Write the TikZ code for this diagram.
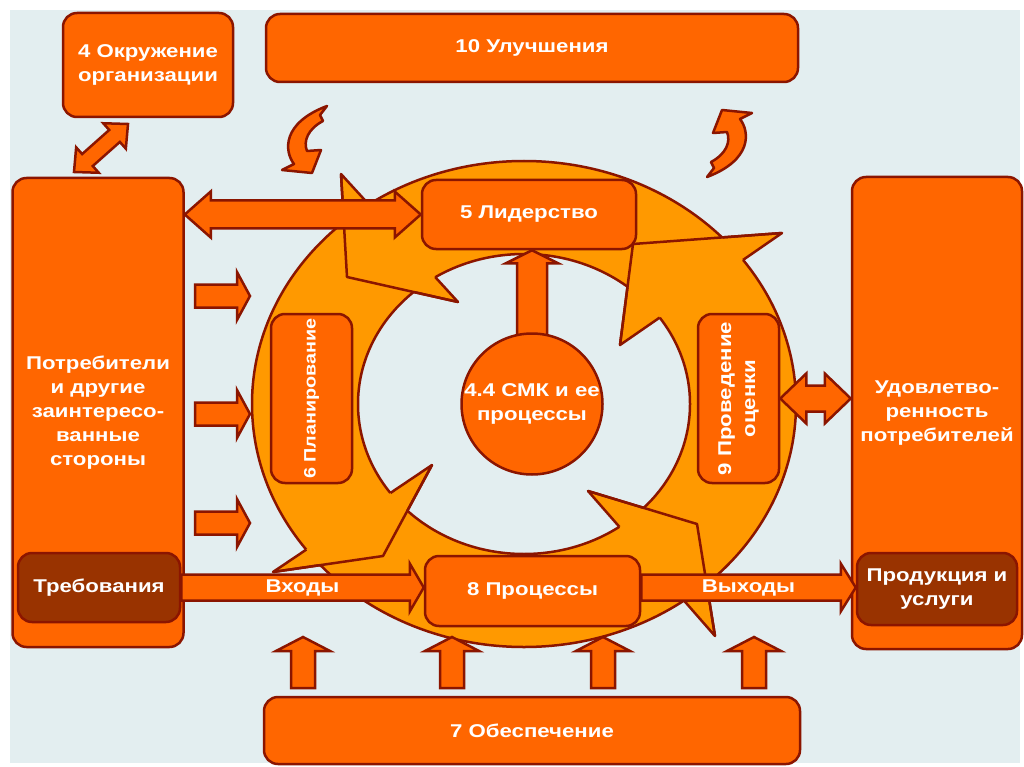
\documentclass[tikz,border=0pt]{standalone}
\usepackage{fontspec}
\newfontfamily\lab{Liberation Sans}[FakeStretch=1.2]
\usetikzlibrary{calc}
\definecolor{bg}{HTML}{E3EEF0}
\definecolor{org}{HTML}{FF6600}
\definecolor{ringc}{HTML}{FF9900}
\definecolor{dk}{HTML}{8B1500}
\definecolor{brn}{HTML}{993300}

\newcommand\blockarr[5]{% from, to, shaft half width, head half width, head length
  \coordinate (ba-h) at ($(#2)!#5!(#1)$);
  \draw[barrow] ($(#1)!#3!90:(#2)$) -- ($(ba-h)!#3!90:(#2)$) -- ($(ba-h)!#4!90:(#2)$) -- (#2)
    -- ($(ba-h)!#4!-90:(#2)$) -- ($(ba-h)!#3!-90:(#2)$) -- ($(#1)!#3!-90:(#2)$) -- cycle;}
\newcommand\dblockarr[5]{%
  \coordinate (ba-g) at ($(#1)!#5!(#2)$);
  \coordinate (ba-h) at ($(#2)!#5!(#1)$);
  \draw[barrow] (#1) -- ($(ba-g)!#4!90:(#2)$) -- ($(ba-g)!#3!90:(#2)$) -- ($(ba-h)!#3!90:(#2)$)
    -- ($(ba-h)!#4!90:(#2)$) -- (#2) -- ($(ba-h)!#4!-90:(#2)$) -- ($(ba-h)!#3!-90:(#2)$)
    -- ($(ba-g)!#3!-90:(#2)$) -- ($(ba-g)!#4!-90:(#2)$) -- cycle;}
\newcommand\ringhead[3]{% outer barb, tip, inner barb
  \fill[ringc] #1 -- #2 -- #3 -- cycle;
  \draw[ringline] #1 -- #2 -- #3;
  \begin{scope}[even odd rule]
    \clip (-10,-10) rectangle (1034,777)
      (524,404) ellipse [x radius=272pt, y radius=243pt]
      (524,404) ellipse [x radius=166pt, y radius=150pt];
    \draw[ringline] #1 -- #2 -- #3 -- cycle;
  \end{scope}}

\begin{document}
\begin{tikzpicture}[x=1pt,y=-1pt,
  lbl/.style={text=white, font=\lab\bfseries\fontsize{18.5}{24}\selectfont, align=center, inner sep=0pt},
  box/.style={lbl, draw=dk, fill=org, line width=2.5pt, rounded corners=14pt, inner sep=2pt},
  dbox/.style={box, fill=brn},
  barrow/.style={draw=dk, fill=org, line width=2.5pt, line join=miter},
  ringline/.style={draw=dk, line width=2.5pt, line join=round},
  curv/.style={draw=dk, fill=org, line width=2.5pt, line join=round}]

\useasboundingbox (0,0) rectangle (1024,767);
\fill[white] (0,0) rectangle (1024,767);
\fill[bg] (10,10) rectangle (1020,763);

% ring
\path[draw=dk, fill=ringc, line width=2.5pt, even odd rule]
  (524,404) ellipse [x radius=272pt, y radius=243pt]
  (524,404) ellipse [x radius=166pt, y radius=150pt];
\ringhead{(341,174)}{(347,277)}{(458,302)}
\ringhead{(782,233)}{(633,244)}{(620,345)}
\ringhead{(273,572)}{(383,556)}{(432,465)}
\ringhead{(715,636)}{(697,524)}{(588,491)}

% boxes
\node[box, minimum width=214pt, minimum height=69pt] (lead) at (529,214.5) {5 Лидерство};
\node[box, rotate=90, minimum width=169pt, minimum height=81pt, inner sep=0pt,
  font=\lab\bfseries\fontsize{16.5}{22}\selectfont] (plan) at (311.5,398.5) {6 Планирование};
\node[box, rotate=90, minimum width=169pt, minimum height=81pt] (eval) at (738.5,398.5) {9 Проведение\\оценки};
\node[box, minimum width=215pt, minimum height=70pt] (proc) at (532.5,591) {8 Процессы};
\node[box, minimum width=170pt, minimum height=104pt] (env) at (148,65) {4 Окружение\\организации};
\node[box, minimum width=532pt, minimum height=68pt] (imp) at (532,48) {10 Улучшения};
\node[box, minimum width=171pt, minimum height=469pt] (cust) at (98,412.5) {Потребители\\и другие\\заинтересо-\\ванные\\стороны};
\node[dbox, minimum width=162pt, minimum height=69pt] (treb) at (99,587.5) {Требования};
\node[box, minimum width=170pt, minimum height=472pt] (sat) at (937,413) {Удовлетво-\\ренность\\потребителей};
\node[dbox, minimum width=160pt, minimum height=72pt] (prod) at (937,589) {Продукция и\\услуги};
\node[box, minimum width=536pt, minimum height=67pt] (supp) at (532,730.5) {7 Обеспечение};

% connectors
\coordinate (cl) at (cust.east |- lead.west);
\dblockarr{cl}{lead.west}{14pt}{23pt}{26pt}
\coordinate (er) at (eval.south -| sat.west);
\dblockarr{eval.south}{er}{13pt}{25pt}{26pt}
\coordinate (d1) at (74,172);
\coordinate (d2) at (128,124);
\dblockarr{d1}{d2}{8pt}{17pt}{18pt}
\coordinate (inE) at (treb.east -| proc.west);
\blockarr{treb.east}{inE}{13pt}{24pt}{14pt}
\coordinate (outS) at (treb.east -| proc.east);
\coordinate (outE) at (treb.east -| prod.west);
\blockarr{outS}{outE}{13pt}{24pt}{15pt}
\node[lbl] at ($(treb.east)!0.5!(inE)$) {Входы};
\node[lbl] at ($(outS)!0.5!(outE)$) {Выходы};

\foreach \i/\y in {1/296,2/414,3/523}{
  \coordinate (l\i s) at (195,\y);
  \coordinate (l\i e) at (250,\y);
  \blockarr{l\i s}{l\i e}{11.5pt}{24pt}{13pt}}
\foreach \i/\x in {1/303,2/452,3/603,4/754}{
  \coordinate (u\i s) at (\x,688);
  \coordinate (u\i e) at (\x,637);
  \blockarr{u\i s}{u\i e}{12pt}{27pt}{14pt}}

\coordinate (qc) at (532,404);
\coordinate (qt) at (qc |- lead.south);
\blockarr{qc}{qt}{15pt}{26pt}{13pt}
\node[box, circle, minimum size=140pt, inner sep=0pt] (qms) at (qc) {4.4 СМК и ее\\процессы};

% curved arrows
\path[curv] (722,110) -- (752,113) -- (740,119) .. controls (750,132) and (752,160) .. (707,177)
  -- (714,168) -- (711,162) .. controls (726,154) and (731,142) .. (727,132) -- (713,133) -- cycle;
\path[curv] (312,173) -- (282,170) -- (294,164) .. controls (284,151) and (282,123) .. (327,106)
  -- (320,115) -- (323,121) .. controls (308,129) and (303,141) .. (307,151) -- (321,150) -- cycle;
\end{tikzpicture}
\end{document}
